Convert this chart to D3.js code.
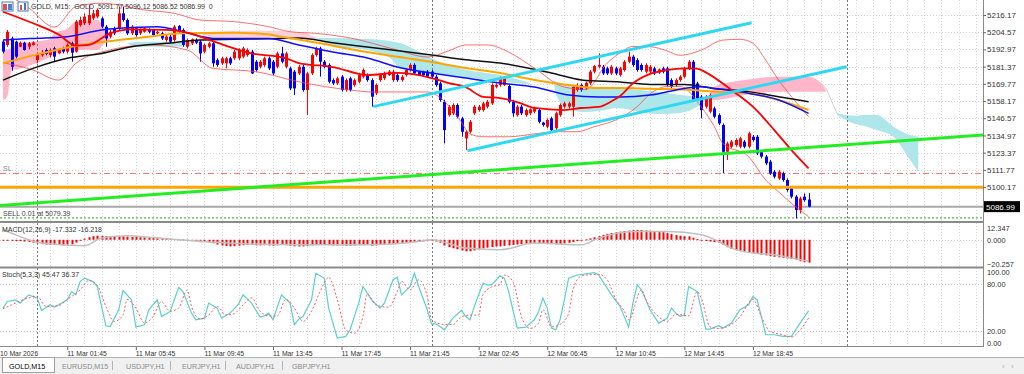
<!DOCTYPE html>
<html><head><meta charset="utf-8">
<script src="https://d3js.org/d3.v7.min.js"></script>
<style>
html,body{margin:0;padding:0;background:#fff;overflow:hidden}
svg{display:block;font-family:Tahoma,"Liberation Sans",Arial,sans-serif}
</style></head>
<body><div id="chart"></div>
<script>
// GOLD M15 candles (bar 0 = first visible bar)
var opens = [
5198.2,5196.0,5200.4,5198.2,5194.8,5197.5,5194.8,5196.0,5185.8,5189.0,
5192.6,5189.2,5193.7,5190.3,5193.7,5191.5,5197.1,5191.5,5209.4,5210.6,
5210.6,5213.9,5215.1,5213.9,5208.3,5201.6,5207.2,5207.2,5217.3,5212.8,
5203.8,5207.2,5203.8,5204.9,5206.1,5206.1,5203.8,5203.8,5199.3,5201.6,
5199.3,5208.8,5206.1,5194.8,5197.1,5199.3,5198.2,5191.5,5194.8,5197.1,
5185.8,5183.6,5183.6,5187.0,5187.0,5187.0,5188.1,5189.2,5191.5,5184.7,
5181.3,5182.5,5187.0,5184.7,5181.3,5190.3,5181.3,5180.2,5178.0,5176.8,
5181.3,5165.6,5176.8,5189.2,5193.7,5184.7,5182.5,5172.3,5170.1,5174.6,
5165.6,5173.5,5169.0,5171.2,5174.6,5175.7,5172.3,5163.4,5172.3,5173.5,
5175.7,5172.3,5175.7,5172.3,5175.7,5179.1,5182.5,5178.0,5178.0,5178.0,
5178.0,5174.6,5170.1,5157.7,5148.7,5149.9,5155.5,5146.5,5133.0,5137.5,
5149.9,5152.1,5152.1,5154.4,5156.6,5167.8,5169.0,5169.0,5168.3,5157.7,
5148.7,5154.4,5148.7,5149.9,5151.0,5152.1,5143.6,5140.9,5146.5,5139.8,
5148.7,5154.4,5154.4,5154.4,5165.6,5169.0,5166.7,5170.1,5178.0,5181.3,
5181.3,5180.2,5176.8,5180.2,5175.7,5179.1,5184.7,5188.1,5185.8,5182.5,
5178.0,5178.0,5180.2,5177.3,5180.2,5180.2,5172.3,5169.0,5172.3,5174.6,
5180.2,5184.7,5170.1,5161.1,5154.4,5151.0,5153.2,5148.7,5142.0,5124.0,
5127.4,5128.5,5127.4,5130.8,5127.4,5134.1,5134.1,5124.0,5120.7,5117.3,
5110.5,5106.0,5109.4,5104.9,5099.3,5093.7,5084.7,5093.7,5091.77];
var highs = [
5199.3,5206.1,5201.6,5198.9,5198.4,5198.2,5198.0,5198.4,5190.3,5192.6,
5193.7,5193.7,5194.8,5193.7,5194.8,5197.1,5198.2,5212.8,5215.1,5217.3,
5222.9,5219.6,5220.7,5215.1,5209.4,5206.1,5208.3,5221.8,5221.8,5213.9,
5209.4,5208.3,5207.2,5207.9,5207.2,5206.5,5205.6,5204.9,5202.7,5202.7,
5209.4,5209.4,5207.2,5200.4,5200.4,5200.4,5199.3,5197.1,5198.2,5198.2,
5187.0,5188.1,5188.1,5188.1,5192.6,5193.7,5194.8,5193.7,5192.6,5185.8,
5185.8,5188.1,5188.1,5185.8,5191.5,5194.8,5191.5,5181.3,5179.1,5182.5,
5182.5,5178.0,5190.3,5194.8,5194.8,5185.8,5183.6,5173.5,5174.6,5175.7,
5173.5,5174.6,5173.5,5176.8,5180.2,5176.8,5173.5,5170.1,5176.8,5178.0,
5179.1,5179.1,5176.8,5175.7,5180.2,5183.6,5183.6,5178.6,5178.6,5179.1,
5179.1,5175.7,5171.2,5158.9,5155.5,5156.6,5156.6,5147.6,5138.6,5145.4,
5155.5,5155.5,5157.7,5158.9,5170.1,5170.1,5174.6,5174.6,5169.0,5158.9,
5155.5,5155.5,5153.2,5153.2,5154.4,5153.2,5144.2,5146.5,5147.6,5151.0,
5156.6,5157.7,5157.7,5169.0,5170.1,5170.1,5171.2,5179.1,5182.5,5190.3,
5182.5,5181.3,5182.5,5181.3,5181.3,5185.8,5191.5,5189.2,5187.0,5183.6,
5183.6,5182.5,5181.3,5180.2,5181.3,5181.3,5173.5,5173.5,5175.7,5181.3,
5185.8,5185.8,5171.2,5162.2,5162.2,5163.4,5154.4,5149.9,5143.1,5130.8,
5131.9,5133.0,5134.1,5131.9,5137.5,5135.3,5135.3,5125.1,5121.8,5118.4,
5111.6,5111.6,5110.5,5106.0,5100.4,5094.8,5093.7,5095.9,5096.12];
var lows = [
5190.3,5194.8,5178.6,5187.0,5194.4,5192.1,5193.0,5195.5,5183.6,5188.1,
5189.0,5187.6,5184.7,5189.7,5190.3,5190.3,5184.7,5190.8,5208.3,5209.4,
5209.4,5212.8,5213.9,5207.2,5194.8,5200.4,5202.7,5206.1,5211.7,5202.7,
5202.7,5201.6,5202.7,5204.3,5203.8,5201.6,5203.1,5199.3,5198.2,5197.1,
5198.2,5203.8,5194.8,5193.7,5196.0,5196.6,5184.7,5190.3,5193.7,5181.3,
5181.3,5182.5,5180.2,5182.5,5185.8,5185.8,5187.0,5188.1,5176.4,5178.0,
5180.2,5181.3,5179.1,5175.7,5180.2,5183.6,5180.2,5165.6,5162.2,5175.7,
5164.5,5148.7,5175.7,5188.1,5174.6,5180.2,5170.1,5169.0,5169.0,5164.5,
5164.5,5164.5,5167.8,5170.1,5173.5,5171.2,5154.4,5162.2,5171.2,5172.3,
5175.0,5171.2,5171.2,5171.2,5174.6,5178.0,5175.7,5175.0,5175.0,5174.2,
5173.5,5167.8,5157.7,5129.6,5147.6,5148.7,5146.5,5134.1,5125.1,5136.4,
5148.7,5151.0,5151.0,5153.2,5155.5,5166.7,5167.8,5168.3,5156.6,5147.6,
5147.6,5148.7,5147.6,5148.7,5149.9,5143.1,5140.9,5139.8,5137.5,5138.6,
5147.6,5153.2,5153.2,5147.6,5164.5,5164.5,5165.6,5169.0,5176.8,5180.2,
5175.7,5175.7,5175.7,5175.7,5174.6,5178.0,5183.6,5181.3,5178.0,5178.0,
5176.8,5176.8,5175.7,5176.4,5176.8,5167.8,5166.7,5167.8,5171.2,5173.5,
5179.1,5157.7,5158.9,5146.5,5153.2,5149.9,5146.5,5142.0,5109.4,5118.4,
5126.3,5127.4,5126.3,5126.3,5126.3,5130.8,5121.8,5119.5,5115.0,5108.3,
5106.0,5104.9,5103.8,5097.0,5092.5,5079.1,5082.4,5090.3,5086.52];
var closes = [
5191.5,5204.9,5181.3,5188.1,5197.5,5192.6,5197.1,5197.7,5189.2,5190.8,
5189.9,5192.6,5188.1,5192.6,5191.5,5196.0,5190.8,5211.7,5212.8,5215.1,
5216.2,5217.3,5219.6,5208.3,5200.4,5204.9,5203.8,5217.3,5212.8,5203.8,
5208.3,5202.7,5206.5,5207.2,5204.9,5202.7,5204.9,5200.4,5201.6,5198.2,
5208.3,5204.9,5196.0,5199.3,5199.8,5197.5,5190.3,5196.0,5197.1,5183.6,
5182.5,5187.0,5187.0,5183.6,5191.5,5192.6,5193.7,5192.6,5176.8,5179.1,
5184.7,5187.0,5180.2,5176.8,5190.3,5184.7,5190.3,5166.7,5166.7,5181.3,
5165.6,5176.8,5189.2,5193.7,5184.7,5181.3,5171.2,5170.1,5173.5,5165.6,
5172.3,5165.6,5172.3,5175.7,5179.1,5172.3,5161.1,5169.0,5175.7,5176.8,
5178.0,5178.0,5172.3,5174.6,5179.1,5182.5,5176.8,5175.7,5175.7,5174.6,
5174.6,5169.0,5158.9,5138.6,5154.4,5155.5,5147.6,5137.5,5137.5,5144.2,
5154.4,5154.4,5156.6,5157.7,5169.0,5169.0,5173.5,5173.5,5157.7,5149.9,
5154.4,5149.9,5152.1,5152.6,5153.2,5144.2,5142.0,5145.4,5138.6,5149.9,
5155.5,5156.6,5156.6,5167.8,5168.3,5165.6,5170.5,5178.0,5181.8,5182.5,
5176.8,5176.8,5181.3,5176.8,5180.2,5184.7,5188.1,5182.5,5179.1,5179.1,
5182.5,5181.3,5176.8,5179.5,5178.0,5169.0,5167.8,5172.3,5174.6,5180.2,
5184.7,5158.9,5160.0,5152.1,5161.1,5162.2,5147.6,5143.1,5124.0,5129.6,
5130.8,5131.9,5133.0,5127.4,5136.4,5131.9,5122.9,5120.7,5116.2,5109.4,
5107.2,5110.5,5104.9,5098.2,5093.7,5084.7,5092.5,5091.4,5086.99];

var priceTicks = [5216.17,5204.57,5192.97,5181.37,5169.77,5158.17,5146.57,5134.97,5123.37,5111.77,5100.17];
var macdTicks = [12.347, 0, -20.257];
var stochTicks = [100, 80, 20, 0];
var timeLabels = ["11 Mar 01:45","11 Mar 05:45","11 Mar 09:45","11 Mar 13:45","11 Mar 17:45","11 Mar 21:45",
  "12 Mar 02:45","12 Mar 06:45","12 Mar 10:45","12 Mar 14:45","12 Mar 18:45"];
var timeLabelBars = [15,31,47,63,79,95,111,127,143,159,175];
var daySeparatorBars = [8, 100, 197];

// indicator lines, read as [bar, price]
var maRed = [[0,5218.4],[7,5210.6],[13,5203],[17,5195.5],[20,5196],[25,5203.8],[30,5206.5],[38,5206.1],[42,5204.9],[46,5201.6],[50,5197.5],[58,5190.3],[66,5187],[69,5183.8],[77,5181.1],[85,5175.7],[92,5177.1],[100,5173.7],[104,5170.3],[108,5167.6],[112,5161],[116,5160.2],[120,5157.5],[124,5153.5],[131,5152.1],[135,5153.5],[139,5154.2],[142,5158],[144,5161.6],[147,5170.1],[151,5176.5],[155,5179.1],[159,5180.2],[162,5180.0],[164,5177.5],[170,5165.6],[175,5154.4],[180,5138.6],[184,5125.1],[188,5112.8]];
var maBlue = [[0,5199.3],[7,5200.4],[15,5201.6],[23,5206.1],[27,5207.2],[36,5208.3],[42,5204.9],[49,5200.4],[62,5200.4],[69,5196.0],[77,5191.2],[85,5187.2],[93,5180.4],[100,5177.1],[108,5173.7],[116,5170.3],[124,5167.6],[132,5162.2],[139,5160.9],[144,5160.9],[151,5162.2],[159,5166.7],[163,5167.8],[166,5166.7],[174,5163.4],[181,5158.9],[188,5149.9]];
var maOrange = [[0,5183.6],[9,5190.3],[16,5194.8],[27,5199.3],[34,5201.6],[42,5203.8],[54,5204.3],[62,5203.0],[66,5201.0],[69,5199.6],[77,5195.5],[85,5191.2],[100,5184.5],[108,5180.4],[116,5177.1],[124,5172.4],[132,5169.0],[139,5167.0],[144,5167.0],[151,5166.5],[159,5166.0],[166,5164.5],[174,5163.4],[181,5158.9],[188,5152.1]];
var maBlack = [[0,5172.3],[7,5180.2],[15,5187.0],[23,5190.3],[30,5194.8],[38,5197.1],[46,5199.3],[54,5199.8],[62,5200.2],[69,5200.7],[77,5197.5],[85,5194.6],[100,5189.2],[108,5186.0],[116,5183.8],[128,5177.1],[135,5172.4],[144,5171.0],[151,5169.4],[159,5169.4],[166,5166.7],[174,5164.5],[181,5161.1],[188,5157.7]];
var bbUpper = [[0,5232],[6,5221],[12,5208],[17,5221.8],[23,5224.1],[33,5219.6],[40,5217.3],[46,5212.8],[54,5211.7],[62,5208.3],[67,5204.9],[73,5203.8],[81,5200.7],[92,5192.6],[99,5187.9],[104,5192],[108,5196.0],[113,5196.0],[118,5191.2],[124,5180.4],[131,5167.6],[136,5166.0],[141,5183.8],[144,5190.6],[147,5195.0],[151,5194.8],[155,5192.0],[158,5189.0],[163,5192.6],[168,5199.3],[172,5199.8],[175,5197.1],[178,5185.8],[181,5172.3],[184,5161.1],[188,5147.6]];
var bbLower = [[0,5184],[7,5179.1],[13,5172.3],[17,5183.6],[25,5192.6],[34,5196.0],[43,5192.6],[49,5180.2],[59,5178.0],[69,5171.2],[75,5168],[81,5165.6],[86,5164.3],[93,5164.3],[99,5164.3],[102.7,5158.9],[106.6,5145.4],[109,5136],[112,5134.1],[118,5134.1],[125,5136.4],[129,5137.5],[134,5137.5],[138,5140.9],[143,5145.4],[148,5154.4],[151,5163],[155,5168.0],[158,5168.0],[163,5154.0],[166,5141.0],[168,5129.6],[174,5120.7],[178,5104.9],[181,5097.0],[184,5089.2],[188,5080.2]];

// ichimoku cloud pieces: [bar, upper, lower]
var kumoPink1 = [[0,5192.6,5158.9],[1,5193,5161],[2,5194,5179],[4,5197,5180.2],[8,5198.5,5184],[11,5200,5188],[12,5203.8,5190],[15,5207,5192],[17,5211.7,5192.6],[22,5212.8,5192.6],[24,5205,5198],[25,5199,5199]];
var kumoCyan1 = [[29,5197,5197],[31,5198,5195],[38,5198.2,5194.8],[43,5198,5195],[45,5197,5197]];
var kumoPink2 = [[45,5197,5197],[48,5204.9,5199.3],[60,5205.5,5200],[70,5204.5,5199.6],[73,5201,5200],[74,5200.4,5200.4]];
var kumoCyan2 = [[73.5,5200.4,5200.4],[74,5200.7,5199.3],[77,5200.7,5195.3],[85,5200.0,5192.6],[90.3,5198.7,5187.2],[92.6,5197.3,5180.4],[97.3,5191.2,5177.1],[102,5184.5,5175.7],[108.3,5179.1,5173.7],[116,5175.7,5171.7],[122.3,5171.0,5169.7],[123,5170.4,5170.4]];
var kumoCyan3 = [[128.4,5172.4,5172.4],[129.3,5171.0,5160.9],[131.6,5169.0,5153.5],[135.4,5167.6,5150.8],[139.3,5167.0,5151.5],[143.3,5167.0,5153.5],[148.7,5165.6,5150.8],[153.3,5164.3,5149.4],[158,5162.2,5150.1],[162.7,5160.9,5155.5],[164.5,5159.5,5159.5]];
var kumoPink3 = [[164.5,5159.5,5159.5],[166,5167.8,5158.9],[173,5172.3,5162.2],[181,5174.6,5164.5],[188,5174.6,5164.5],[191,5170,5164.5],[192,5165.6,5164.5]];
var kumoCyan4 = [[194.6,5150.1,5148.7],[198.5,5148.2,5143],[201.6,5148.7,5140.9],[203.9,5148.7,5138.6],[207.8,5140.9,5134.1],[211.7,5135.3,5118.4],[213.6,5134.1,5110.5]];
var kumoEdge = [[191,5170],[192.2,5166],[194.6,5150.1]];

// drawn objects
var channelLines = [[86.4,5154.4,174.7,5211.0],[108.4,5124.7,196.9,5181.3]];
var supportLine = [-0.7,5087.7,228.7,5135.3];
var orangeLevel = 5100.0, slLevel = 5109.4, bidLevel = 5086.99, sellLevel = 5079.39;

// MACD(12,26,9)
var macdHist = [
-0.4,-0.6,-0.8,-0.9,-1.0,-1.3,-1.7,
-2.2,-2.7,-3.3,-3.6,-3.8,-3.9,-3.9,-3.8,-3.7,-3.5,
-2.1,-0.7,0.9,
1.9,2.7,3.1,3.0,2.8,2.6,
2.3,2.5,2.6,2.4,2.2,2.1,2.0,1.8,1.6,1.5,1.2,1.0,0.9,
0.7,0.5,0.4,0.3,0.0,-0.2,-0.3,-0.7,
-1.1,-1.9,-2.7,-3.6,-4.3,-4.7,-5.0,-4.8,-4.5,-4.1,-3.8,-3.9,-4.2,-4.3,-4.1,-4.3,-4.5,-4.2,-3.9,-4.1,-4.5,-5.0,-5.1,-5.0,-4.8,-4.3,
-3.9,-3.8,-3.9,-4.1,-4.3,-4.4,-4.3,-4.5,-4.5,-4.3,-4.1,-4.0,-3.9,-4.5,-4.3,-3.9,-3.6,-3.3,-3.1,-2.8,-2.6,-2.2,-1.9,-1.6,-1.4,-1.2,-1.0,-0.9,
-1.3,-2.2,-4.3,-5.6,-6.4,-7.2,-8.1,-8.8,-8.7,-8.1,-7.3,-6.5,-6.0,-5.5,-5.1,-5.0,
-4.6,-4.3,-3.9,-3.6,-3.3,-3.1,-2.9,-2.7,-2.6,-2.8,-3.1,-3.3,-3.4,-3.3,-2.8,-2.3,-1.7,-1.0,
-0.3,0.3,1.0,
1.9,2.8,3.7,4.5,5.1,5.7,6.2,6.6,7.0,7.4,
7.5,7.4,7.1,6.9,6.5,6.2,5.8,5.1,4.3,3.6,3.1,2.7,2.6,
1.5,0.5,-0.3,-0.9,-1.3,-1.7,
-2.4,-3.9,-5.6,-6.9,-7.9,-8.6,-9.1,-9.6,-10.1,-10.7,-11.3,-11.8,-12.4,-12.9,-13.3,-13.7,-14.1,-14.6,-15.1,-16.3,-17.0,-17.332];
var macdSignal = [[0,7.6],[2,5.0],[6,0],[9,-2.5],[19,-4.5],[23,1.3],[29,3.0],[34,2.0],[46,-1.3],[69,-3.8],[85,-3.8],[97,-1.3],[100,0],[108,-6.3],[116,-7.6],[124,-2.5],[135,-3.8],[139,1.3],[147,6.3],[155,6.3],[163,3.8],[167,-1.3],[170,-6.3],[175,-10.1],[180,-11.4],[184,-13.9],[188,-16.218]];

// Stoch(5,3,3) as [bar, value]
var stochK = [[0,48.9],[1,57.4],[3,59.5],[4,55.3],[6,65.8],[8,61.6],[9,45.9],[11,53.2],[12,50.2],[13,53.2],[15,59.5],[16,70.0],[17,65.8],[18,82.7],[19,86.9],[21,82.7],[22,76.4],[23,51.1],[24,26.4],[25,25.5],[27,46.8],[28,71.3],[30,59.5],[31,24.7],[33,27.6],[34,46.8],[36,59.5],[37,38.2],[39,44.6],[41,75.5],[42,70.0],[44,42.5],[45,34.0],[47,36.1],[48,55.3],[50,48.9],[51,36.1],[53,42.5],[55,54.4],[56,65.8],[58,55.3],[60,37.4],[61,39.1],[62,42.5],[63,34.0],[65,65.8],[67,55.3],[68,27.6],[69,34.8],[70,38.2],[72,59.5],[73,93.3],[75,86.9],[76,48.9],[78,10.8],[80,12.9],[81,21.3],[83,55.3],[84,76.4],[86,59.5],[88,48.9],[89,55.3],[91,84.8],[92,88.2],[93,65.8],[95,76.4],[96,93.3],[97,76.4],[99,46.8],[100,28.9],[101,28.9],[102,25.5],[103,21.3],[105,36.1],[107,45.9],[108,38.2],[109,34.0],[110,51.1],[112,80.6],[113,78.5],[114,78.5],[116,90.0],[117,86.9],[118,70.0],[120,23.4],[122,24.7],[124,34.0],[125,44.6],[126,61.6],[127,48.9],[128,23.4],[129,21.3],[130,34.0],[131,59.5],[132,86.9],[134,91.1],[136,92.4],[138,94.1],[139,91.1],[142,65.8],[144,51.1],[146,24.7],[147,55.3],[148,78.5],[149,72.2],[151,46.8],[153,29.8],[155,36.1],[156,48.9],[157,42.5],[158,38.2],[159,40.3],[160,76.4],[162,70.0],[164,22.2],[165,22.2],[167,26.4],[168,23.4],[170,29.8],[172,46.8],[174,53.2],[175,63.7],[176,59.5],[178,15.0],[180,15.0],[182,12.9],[184,12.9],[186,29.8],[188,45.47]];
var stochD = [[0,48],[2,53],[6,62],[8,64],[10,51],[13,52],[15,60],[18,72],[20,84],[22,78],[24,51],[26,32],[28,40],[29,60],[31,49],[33,30],[35,38],[37,57],[39,45],[41,49],[43,72],[44,51],[46,35],[48,40],[50,51],[52,40],[54,42],[56,53],[58,62],[60,45],[62,39],[64,39],[66,60],[68,49],[70,32],[72,45],[74,70],[76,88],[78,60],[80,21],[82,17],[84,38],[85,67],[87,53],[90,50],[92,70],[93,83],[95,72],[97,85],[99,64],[100,34],[103,28],[105,28],[107,38],[109,40],[111,40],[112,66],[114,76],[116,79],[117,91],[119,83],[121,38],[123,23],[125,30],[126,47],[128,25],[130,28],[132,42],[133,72],[135,90],[139,92],[141,85],[143,60],[145,45],[146,34],[149,72],[150,60],[153,38],[155,32],[157,41],[160,39],[162,70],[163,61],[165,25],[167,23],[170,28],[172,38],[175,60],[177,38],[179,19],[182,15],[184,12],[186,21],[188,36.37]];

var tabs = ["GOLD,M15","EURUSD,M15","USDJPY,H1","EURJPY,H1","AUDJPY,H1","GBPJPY,H1"];

var W = 1024, H = 374, plotR = 983;
var x = d3.scaleLinear().domain([0, 188]).range([3, 808.6]);
var yMain = d3.scaleLinear().domain([5077.3, 5226.3]).range([221, 0]);
var yMacd = d3.scaleLinear().domain([-20.257, 12.347]).range([266.5, 223.5]);
var yStoch = d3.scaleLinear().domain([0, 100]).range([346.5, 268]);

var svg = d3.select("#chart").append("svg").attr("width", W).attr("height", H);
var defs = svg.append("defs");
function clip(id, y0, y1) {
  defs.append("clipPath").attr("id", id).append("rect")
    .attr("x", 0).attr("y", y0).attr("width", plotR).attr("height", y1 - y0);
}
clip("cMain", 0, 221); clip("cMacd", 223, 266.5); clip("cStoch", 268, 346.5);

var gMain = svg.append("g").attr("clip-path", "url(#cMain)");
var gMacd = svg.append("g").attr("clip-path", "url(#cMacd)");
var gStoch = svg.append("g").attr("clip-path", "url(#cStoch)");

// GRID
var gridBars = d3.range(3, 229, 4);
[[gMain, 0, 221], [gMacd, 223, 266.5], [gStoch, 268, 346.5]].forEach(function(p) {
  p[0].selectAll(".vg").data(gridBars).enter().append("line")
    .attr("x1", function(d) { return Math.round(x(d)) + 0.5; })
    .attr("x2", function(d) { return Math.round(x(d)) + 0.5; })
    .attr("y1", p[1]).attr("y2", p[2])
    .attr("stroke", "#d4d4d4").attr("stroke-dasharray", "1,2");
});
gMain.selectAll(".hg").data(priceTicks).enter().append("line")
  .attr("x1", 0).attr("x2", plotR)
  .attr("y1", function(d) { return Math.round(yMain(d)) + 0.5; })
  .attr("y2", function(d) { return Math.round(yMain(d)) + 0.5; })
  .attr("stroke", "#d4d4d4").attr("stroke-dasharray", "1,2");
gMacd.append("line").attr("x1", 0).attr("x2", plotR)
  .attr("y1", Math.round(yMacd(0)) + 0.5).attr("y2", Math.round(yMacd(0)) + 0.5)
  .attr("stroke", "#c8c8c8").attr("stroke-dasharray", "1,2");
gStoch.selectAll(".lv").data([80, 20]).enter().append("line")
  .attr("x1", 0).attr("x2", plotR)
  .attr("y1", function(d) { return Math.round(yStoch(d)) + 0.5; })
  .attr("y2", function(d) { return Math.round(yStoch(d)) + 0.5; })
  .attr("stroke", "#c0c0c0").attr("stroke-dasharray", "1,2");

// ICHIMOKU CLOUD
var area = d3.area().x(function(d) { return x(d[0]); })
  .y0(function(d) { return yMain(d[2]); }).y1(function(d) { return yMain(d[1]); })
  .curve(d3.curveMonotoneX);
[[kumoPink1, "#ffb6c8"], [kumoCyan1, "#aee6ea"], [kumoPink2, "#ffd0da"], [kumoCyan2, "#aee6ea"],
 [kumoCyan3, "#aee6ea"], [kumoPink3, "#ffb6c8"], [kumoCyan4, "#aee6ea"]]
 .forEach(function(k) {
   gMain.append("path").datum(k[0]).attr("d", area).attr("fill", k[1]);
 });
var line = d3.line().x(function(d) { return x(d[0]); }).y(function(d) { return yMain(d[1]); });
gMain.append("path").datum(kumoEdge).attr("d", line).attr("fill", "none").attr("stroke", "#cfcfcf");

// PERIOD SEPARATORS
[[gMain, 0, 221], [gMacd, 223, 266.5], [gStoch, 268, 346.5]].forEach(function(p) {
  p[0].selectAll(".sep").data(daySeparatorBars).enter().append("line")
    .attr("x1", function(d) { return Math.round(x(d)) + 0.5; })
    .attr("x2", function(d) { return Math.round(x(d)) + 0.5; })
    .attr("y1", p[1]).attr("y2", p[2])
    .attr("stroke", "#777").attr("stroke-dasharray", "2,2");
});

// HORIZONTAL LEVELS
function hline(v, color, w, dash) {
  var yy = yMain(v);
  var l = gMain.append("line").attr("x1", 0).attr("x2", plotR).attr("y1", yy).attr("y2", yy)
    .attr("stroke", color).attr("stroke-width", w);
  if (dash) l.attr("stroke-dasharray", dash);
}
hline(slLevel, "#f26b6b", 1, "6,3,1,3");
hline(sellLevel, "#22aa22", 1, "2,2");
hline(bidLevel, "#a8a8a8", 2);

// CANDLES
var bars = d3.range(closes.length);
var candles = gMain.selectAll(".cd").data(bars).enter().append("g");
candles.append("line")
  .attr("x1", function(i) { return Math.round(x(i)) + 0.5; })
  .attr("x2", function(i) { return Math.round(x(i)) + 0.5; })
  .attr("y1", function(i) { return yMain(highs[i]); })
  .attr("y2", function(i) { return yMain(lows[i]); })
  .attr("stroke", function(i) { return closes[i] >= opens[i] ? "#ff0000" : "#0000ff"; });
candles.append("rect")
  .attr("x", function(i) { return Math.round(x(i)) - 1; })
  .attr("width", 3)
  .attr("y", function(i) { return yMain(Math.max(opens[i], closes[i])); })
  .attr("height", function(i) { return Math.max(1, Math.abs(yMain(opens[i]) - yMain(closes[i]))); })
  .attr("fill", function(i) { return closes[i] >= opens[i] ? "#ff0000" : "#0000ff"; });

// BOLLINGER + MOVING AVERAGES
var smooth = d3.line().x(function(d) { return x(d[0]); }).y(function(d) { return yMain(d[1]); })
  .curve(d3.curveMonotoneX);
[[bbUpper, "#ff4040", 1, 0.75], [bbLower, "#ff4040", 1, 0.75],
 [maBlack, "#111111", 1.5, 1], [maOrange, "#ffa500", 2, 1], [maBlue, "#1010ff", 1.5, 1], [maRed, "#ff0000", 1.8, 1]]
 .forEach(function(m) {
   gMain.append("path").datum(m[0]).attr("d", smooth).attr("fill", "none")
     .attr("stroke", m[1]).attr("stroke-width", m[2]).attr("opacity", m[3]);
 });

// OBJECTS
hline(orangeLevel, "#ffa500", 3);
function tline(t, color, w) {
  gMain.append("line").attr("x1", x(t[0])).attr("y1", yMain(t[1]))
    .attr("x2", x(t[2])).attr("y2", yMain(t[3]))
    .attr("stroke", color).attr("stroke-width", w);
}
tline(supportLine, "#22ee22", 3);
channelLines.forEach(function(t) { tline(t, "#2fd8f2", 3); });

gMain.append("text").attr("x", 3).attr("y", yMain(slLevel) - 2).text("SL")
  .attr("font-size", 7).attr("fill", "#888");
gMain.append("text").attr("x", 3).attr("y", yMain(sellLevel) - 1.5).text("SELL 0.01 at 5079.39")
  .attr("font-size", 7).attr("fill", "#444");

// MACD
gMacd.selectAll(".mh").data(bars).enter().append("rect")
  .attr("x", function(i) { return Math.round(x(i)) - 0.5; })
  .attr("width", 2)
  .attr("y", function(i) { return Math.min(yMacd(0), yMacd(macdHist[i])); })
  .attr("height", function(i) { return Math.max(1, Math.abs(yMacd(macdHist[i]) - yMacd(0))); })
  .attr("fill", "#ff0000");
gMacd.append("path").datum(macdSignal)
  .attr("d", d3.line().x(function(d) { return x(d[0]); }).y(function(d) { return yMacd(d[1]); }).curve(d3.curveMonotoneX))
  .attr("fill", "none").attr("stroke", "#c0c0c0").attr("stroke-width", 1.5);
svg.append("text").attr("x", 2).attr("y", 231.5).text("MACD(12,26,9) -17.332 -16.218")
  .attr("font-size", 7).attr("fill", "#333");

// STOCHASTIC
var sLine = d3.line().x(function(d) { return x(d[0]); }).y(function(d) { return yStoch(d[1]); });
gStoch.append("path").datum(stochK).attr("d", sLine).attr("fill", "none")
  .attr("stroke", "#5ccfcf").attr("stroke-width", 1.2);
gStoch.append("path").datum(stochD).attr("d", sLine.curve(d3.curveMonotoneX)).attr("fill", "none")
  .attr("stroke", "#ff5a5a").attr("stroke-width", 1).attr("stroke-dasharray", "2,2");
svg.append("text").attr("x", 2).attr("y", 276.5).text("Stoch(5,3,3) 45.47 36.37")
  .attr("font-size", 7).attr("fill", "#333");

// PANEL FRAMES
svg.append("rect").attr("x", 0).attr("y", 221).attr("width", plotR).attr("height", 2).attr("fill", "#8a8a8a");
svg.append("rect").attr("x", 0).attr("y", 266.5).attr("width", plotR).attr("height", 2).attr("fill", "#8a8a8a");
svg.append("line").attr("x1", 0).attr("x2", plotR).attr("y1", 346.5).attr("y2", 346.5).attr("stroke", "#8a8a8a");
svg.append("line").attr("x1", plotR + 0.5).attr("x2", plotR + 0.5).attr("y1", 0).attr("y2", 347).attr("stroke", "#8a8a8a");

// RIGHT AXES
function styleAxis(g, fs) {
  g.select(".domain").remove();
  g.selectAll(".tick line").attr("stroke", "#666");
  g.selectAll(".tick text").attr("font-size", fs).attr("fill", "#333").attr("font-family", "Tahoma,'Liberation Sans',Arial,sans-serif");
}
svg.append("g").attr("transform", "translate(" + plotR + ",0)")
  .call(d3.axisRight(yMain).tickValues(priceTicks).tickSize(3).tickPadding(1).tickFormat(d3.format(".2f")))
  .call(styleAxis, 8);
var gmx = svg.append("g").attr("transform", "translate(" + plotR + ",0)")
  .call(d3.axisRight(yMacd).tickValues(macdTicks).tickSize(0).tickPadding(4).tickFormat(d3.format(".3f")))
  .call(styleAxis, 7.4);
gmx.selectAll(".tick text").attr("dy", function(d) { return d > 0 ? "0.95em" : d < 0 ? "-0.05em" : "0.32em"; });
var gsx = svg.append("g").attr("transform", "translate(" + plotR + ",0)")
  .call(d3.axisRight(yStoch).tickValues(stochTicks).tickSize(0).tickPadding(4).tickFormat(d3.format(".2f")))
  .call(styleAxis, 7.4);
gsx.selectAll(".tick text").attr("dy", function(d) { return d == 100 ? "0.85em" : d == 0 ? "-0.1em" : "0.32em"; });

// current price box
var by = yMain(bidLevel);
svg.append("rect").attr("x", plotR + 1).attr("y", by - 5.5).attr("width", 36).attr("height", 11).attr("fill", "#000");
svg.append("text").attr("x", plotR + 3).attr("y", by + 3).text(d3.format(".2f")(bidLevel))
  .attr("font-size", 8).attr("fill", "#fff");

// TIME AXIS
var gx = svg.append("g").attr("transform", "translate(0,347)")
  .call(d3.axisBottom(x).tickValues(timeLabelBars).tickSize(3).tickPadding(1)
    .tickFormat(function(d, i) { return timeLabels[i]; }));
gx.select(".domain").remove();
gx.selectAll(".tick line").attr("stroke", "#666");
gx.selectAll(".tick text").attr("text-anchor", "start").attr("dx", "-0.5")
  .attr("font-size", 6.8).attr("fill", "#333").attr("font-family", "Tahoma,'Liberation Sans',Arial,sans-serif");
svg.append("text").attr("x", 0).attr("y", 356).text("10 Mar 2026").attr("font-size", 6.8).attr("fill", "#333");

// HEADER
svg.append("rect").attr("x", 2).attr("y", 2).attr("width", 11).attr("height", 9).attr("fill", "#fff").attr("stroke", "#4a78c0");
svg.append("rect").attr("x", 3).attr("y", 4).attr("width", 4).attr("height", 6).attr("fill", "#e05050");
svg.append("rect").attr("x", 8).attr("y", 4).attr("width", 4).attr("height", 6).attr("fill", "#5080d0");
svg.append("rect").attr("x", 18).attr("y", 2).attr("width", 10).attr("height", 9).attr("fill", "#fff").attr("stroke", "#4a78c0");
svg.append("rect").attr("x", 20).attr("y", 5).attr("width", 2).attr("height", 5).attr("fill", "#e05050");
svg.append("rect").attr("x", 24).attr("y", 3).attr("width", 2).attr("height", 7).attr("fill", "#4a78c0");
svg.append("text").attr("x", 31).attr("y", 9).attr("xml:space", "preserve").style("white-space", "pre")
  .text("GOLD, M15:  GOLD  5091.77 5096.12 5086.52 5086.99  0")
  .attr("font-size", 7).attr("fill", "#333");

// TAB BAR
svg.append("rect").attr("x", 0).attr("y", 357).attr("width", W).attr("height", 17).attr("fill", "#f0f0f0");
svg.append("line").attr("x1", 0).attr("x2", W).attr("y1", 357.5).attr("y2", 357.5).attr("stroke", "#b4b4b4");
svg.append("rect").attr("x", 2.5).attr("y", 357.5).attr("width", 52).attr("height", 15).attr("fill", "#fff").attr("stroke", "#a0a0a0");
var tabX = [9, 62, 126, 182, 236, 292];
svg.selectAll(".tab").data(tabs).enter().append("text")
  .attr("x", function(d, i) { return tabX[i]; }).attr("y", 368.5)
  .text(function(d) { return d; })
  .attr("font-size", 7.2).attr("fill", function(d, i) { return i == 0 ? "#000" : "#8a8a8a"; });
svg.selectAll(".tsep").data([112, 170, 225, 282]).enter().append("line")
  .attr("x1", function(d) { return d + 0.5; }).attr("x2", function(d) { return d + 0.5; })
  .attr("y1", 361).attr("y2", 370).attr("stroke", "#b4b4b4");
svg.append("text").attr("x", 1002).attr("y", 369).text("\u2039").attr("font-size", 8).attr("fill", "#aaa");
svg.append("text").attr("x", 1011).attr("y", 369).text("\u203A").attr("font-size", 8).attr("fill", "#aaa");
</script>
</body></html>
